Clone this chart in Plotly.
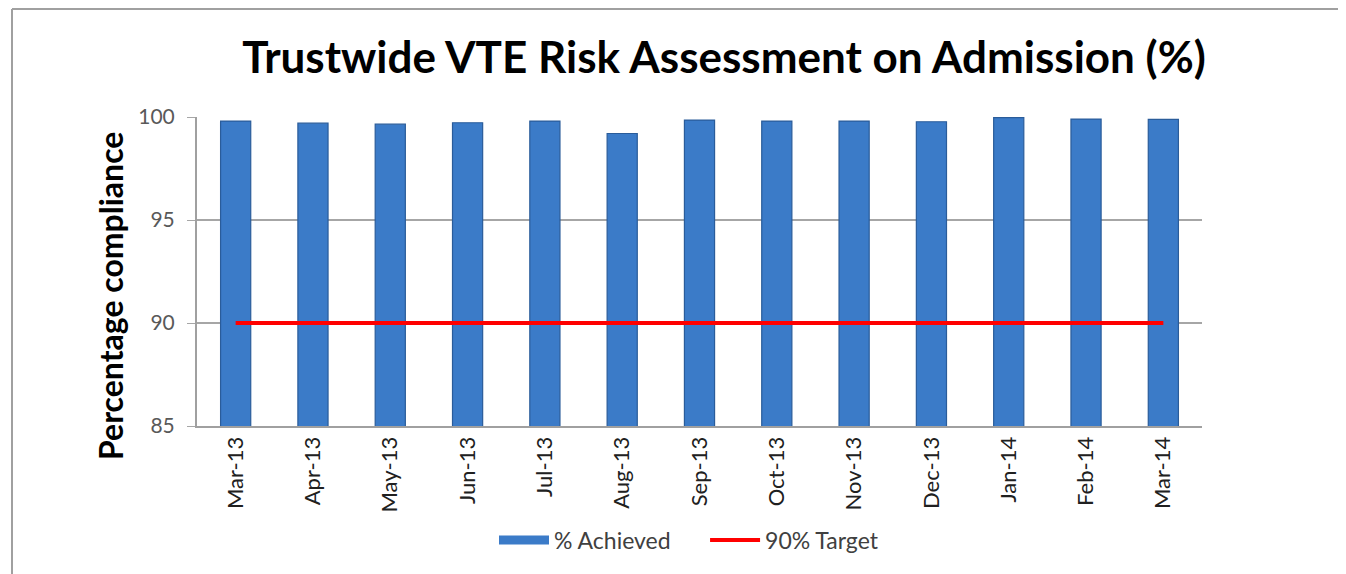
import plotly.graph_objects as go

months = ["Mar-13", "Apr-13", "May-13", "Jun-13", "Jul-13", "Aug-13", "Sep-13",
          "Oct-13", "Nov-13", "Dec-13", "Jan-14", "Feb-14", "Mar-14"]
achieved = [99.8, 99.7, 99.65, 99.72, 99.8, 99.2, 99.85, 99.8, 99.8, 99.77, 99.97, 99.9, 99.88]
target = [90] * len(months)

BAR_COLOR = "#3B7BC8"

fig = go.Figure()
fig.add_trace(go.Bar(
    x=months, y=achieved, name="% Achieved", showlegend=False,
    legendgroup="ach",
    marker=dict(color=BAR_COLOR, line=dict(color="#2A5C9A", width=1.2)),
))
# legend proxy for the bar series (wide bar-like swatch, no data drawn)
fig.add_trace(go.Scatter(
    x=[None], y=[None], name="% Achieved\u00a0\u00a0\u00a0\u00a0\u00a0", mode="lines",
    legendgroup="ach",
    line=dict(color=BAR_COLOR, width=9),
))
fig.add_trace(go.Scatter(
    x=months, y=target, name="90% Target", mode="lines",
    line=dict(color="#FF0000", width=4),
))

OFF = 8  # browser body margin
W, H = 1346 - OFF, 574 - OFF
L, T = 197 - OFF, 117 - OFF
R = W - (1202 - OFF)
B = H - (426 - OFF)
pw, ph = W - L - R, H - T - B

def px_x(x):
    return (x - OFF - L) / pw

def px_y(y):
    return (H - B - (y - OFF)) / ph

fig.update_layout(
    width=W, height=H,
    margin=dict(l=L, r=R, t=T, b=B),
    paper_bgcolor="white", plot_bgcolor="white",
    bargap=0.61,
    font=dict(family="Lato, Open Sans, sans-serif", color="#404040"),
    title=dict(text="<b>Trustwide VTE Risk Assessment on Admission (%)</b>",
               x=px_x(724), xref="paper", xanchor="center",
               y=1 - (58 - OFF) / H, yref="container", yanchor="middle",
               font=dict(size=44, color="#000000", family="Lato, sans-serif")),
    showlegend=True,
    legend=dict(orientation="h", x=px_x(689), xanchor="center",
                y=px_y(540), yanchor="middle", itemwidth=50,
                font=dict(size=23, color="#404040"), traceorder="normal"),
    xaxis=dict(type="category", tickangle=-90, showgrid=False,
               tickfont=dict(size=22, color="#202020"),
               showline=True, linecolor="#A0A0A0", linewidth=2, ticks=""),
    yaxis=dict(range=[85, 100], dtick=5, showgrid=True, gridcolor="#A6A6A6",
               gridwidth=1.5, showline=True, linecolor="#A0A0A0", linewidth=2,
               tickfont=dict(size=21, color="#595959"), ticks="outside",
               ticklen=8, tickcolor="#A6A6A6", zeroline=False,
               ticklabelstandoff=8),
    annotations=[dict(text="<b>Percentage compliance</b>", textangle=-90,
                      x=px_x(110), y=px_y(296), xref="paper", yref="paper",
                      xanchor="center", yanchor="middle",
                      showarrow=False, font=dict(size=32, color="#000000"))],
    shapes=[
        dict(type="line", xref="paper", yref="paper",
             x0=px_x(12), x1=px_x(1346), y0=px_y(9), y1=px_y(9),
             line=dict(color="#A0A0A0", width=2)),
        dict(type="line", xref="paper", yref="paper",
             x0=px_x(12), x1=px_x(12), y0=px_y(9), y1=px_y(580),
             line=dict(color="#A0A0A0", width=2)),
    ],
)

fig.write_html("out.html")
